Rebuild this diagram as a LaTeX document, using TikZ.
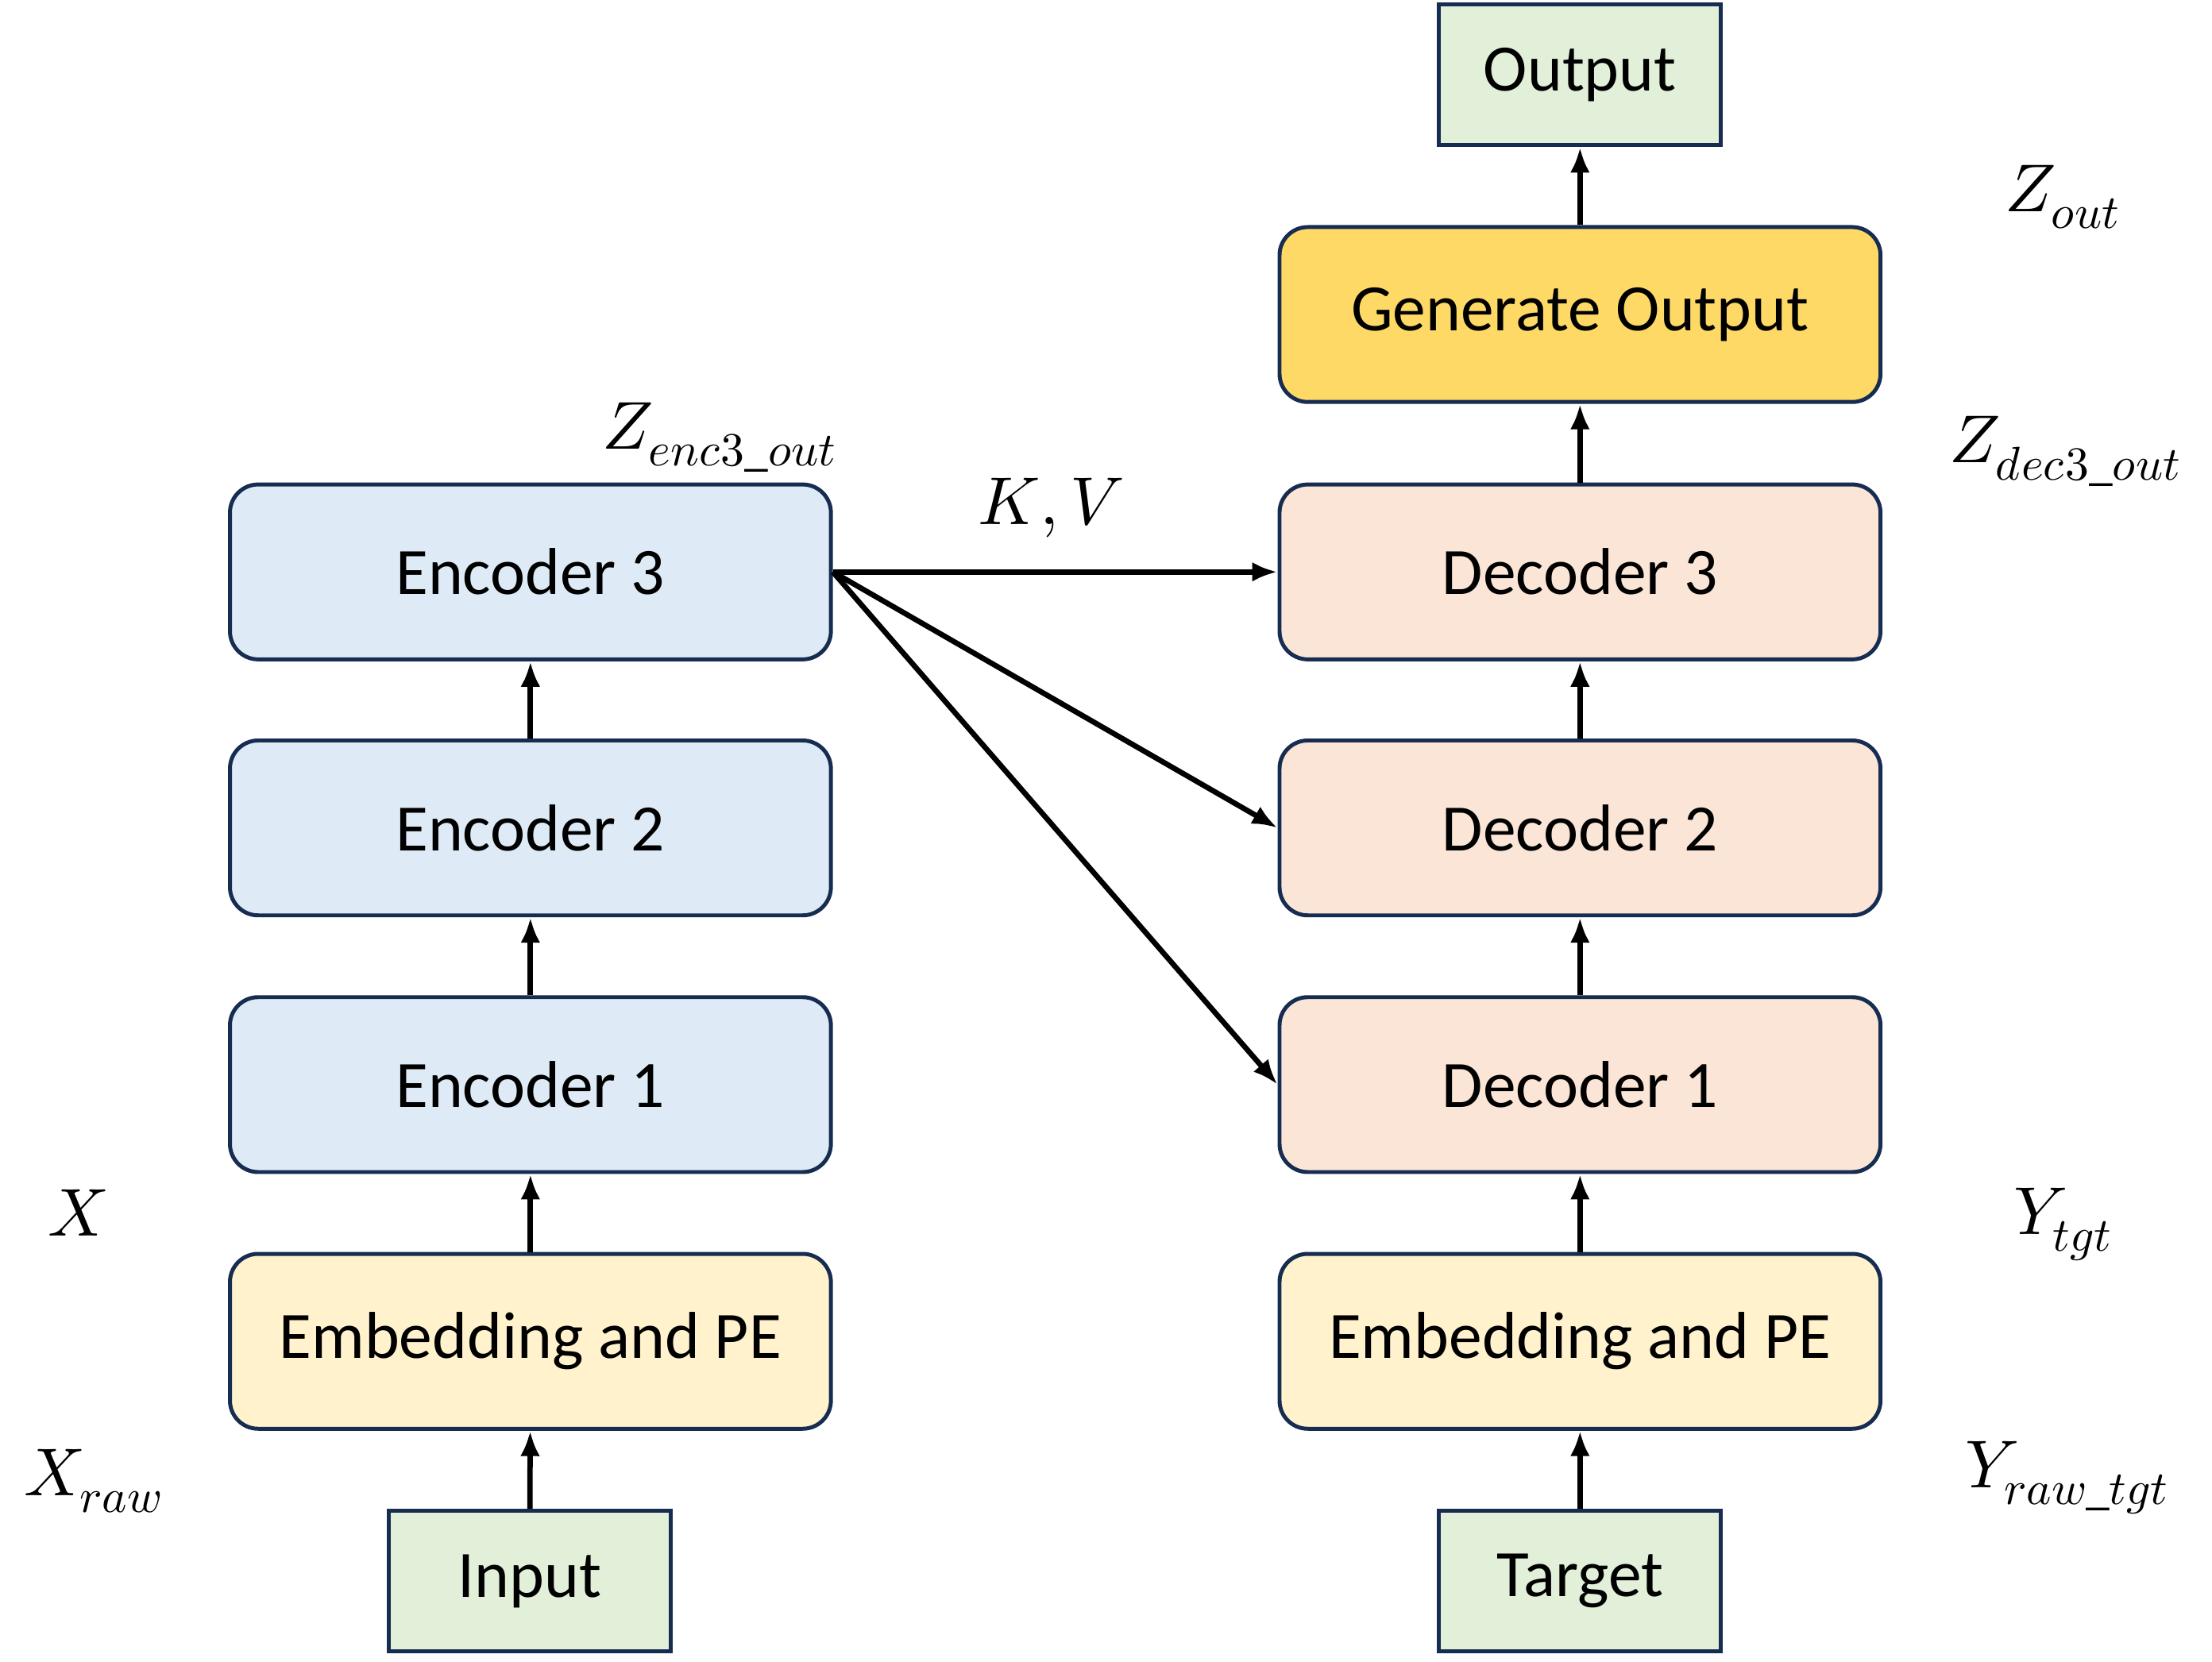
\documentclass[tikz,border=0pt]{standalone}
\usepackage{fontspec}
\usepackage{unicode-math}
\setmainfont{Carlito}
\setmathfont{Latin Modern Math}
\usetikzlibrary{arrows.meta}
\definecolor{bordc}{HTML}{172C51}
\definecolor{encc}{HTML}{DEEBF7}
\definecolor{decc}{HTML}{FBE5D6}
\definecolor{embc}{HTML}{FFF2CC}
\definecolor{genc}{HTML}{FFD966}
\definecolor{ioc}{HTML}{E2F0D9}
\tikzset{
  blk/.style={draw=bordc, line width=2.8pt, rounded corners=20pt, minimum width=426pt, minimum height=124pt, inner sep=0pt, font=\fontsize{47}{56}\selectfont},
  iobox/.style={draw=bordc, line width=2.8pt, fill=ioc, minimum width=200pt, minimum height=100pt, inner sep=0pt, font=\fontsize{47}{56}\selectfont},
  arr/.style={line width=3.8pt, -{Latex[length=18pt,width=14pt]}},
  lbl/.style={inner sep=0pt, font=\fontsize{48}{56}\selectfont}
}
\begin{document}
\begin{tikzpicture}[x=1pt,y=-1pt]
\useasboundingbox (0,0) rectangle (1568,1178);
% encoder side
\node[blk, fill=encc] (enc3) at (376,405.5) {Encoder 3};
\node[blk, fill=encc] (enc2) at (376,587) {Encoder 2};
\node[blk, fill=encc] (enc1) at (376,769) {Encoder 1};
\node[blk, fill=embc] (embL) at (376,951) {Embedding and PE};
\node[iobox] (input) at (375.5,1121) {Input};
% decoder side
\node[iobox] (output) at (1120,53) {Output};
\node[blk, fill=genc] (gen) at (1120,223) {Generate Output};
\node[blk, fill=decc] (dec3) at (1120,405.5) {Decoder 3};
\node[blk, fill=decc] (dec2) at (1120,587) {Decoder 2};
\node[blk, fill=decc] (dec1) at (1120,769) {Decoder 1};
\node[blk, fill=embc] (embR) at (1120,951) {Embedding and PE};
\node[iobox] (target) at (1120,1121) {Target};
% vertical arrows
\draw[arr] (input) -- (embL);
\draw[arr] (embL) -- (enc1);
\draw[arr] (enc1) -- (enc2);
\draw[arr] (enc2) -- (enc3);
\draw[arr] (target) -- (embR);
\draw[arr] (embR) -- (dec1);
\draw[arr] (dec1) -- (dec2);
\draw[arr] (dec2) -- (dec3);
\draw[arr] (dec3) -- (gen);
\draw[arr] (gen) -- (output);
% cross arrows
\draw[arr] (enc3.east) -- (dec3.west);
\draw[arr] (enc3.east) -- (dec2.west);
\draw[arr] (enc3.east) -- (dec1.west);
% labels
\node[lbl] (lzout) at (1462,140) {$Z_{out}$};
\node[lbl] (lzdec) at (1464,320) {$Z_{dec3\_out}$};
\node[lbl] (lzenc) at (510,310) {$Z_{enc3\_out}$};
\node[lbl] (lkv) at (745,360) {$K,V$};
\node[lbl] (lx) at (55,860) {$X$};
\node[lbl] (lxraw) at (66,1050) {$X_{raw}$};
\node[lbl] (lytgt) at (1462,868) {$Y_{tgt}$};
\node[lbl] (lyraw) at (1465,1048) {$Y_{raw\_tgt}$};
\end{tikzpicture}
\end{document}
